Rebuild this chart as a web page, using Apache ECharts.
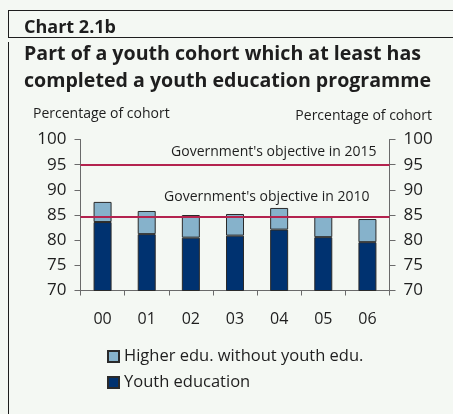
<!DOCTYPE html>
<html>
<head>
<meta charset="utf-8">
<script src="https://cdn.jsdelivr.net/npm/echarts@6/dist/echarts.min.js"></script>
<style>
  html, body { margin: 0; padding: 0; background: #f4f8f3; }
  #chart { width: 453px; height: 414px; }
</style>
</head>
<body>
<div id="chart"></div>
<script>
// Completion shares by cohort year (per cent of cohort)
const years = ['00', '01', '02', '03', '04', '05', '06'];
const youthEducation = [83.6, 81.2, 80.5, 80.9, 82.1, 80.6, 79.6];
const higherWithoutYouth = [4.0, 4.6, 4.5, 4.3, 4.3, 4.1, 4.6];
const objective2015 = 95;
const objective2010 = 84.6;
const yTicks = [70, 75, 80, 85, 90, 95, 100];

const FONT = '"Open Sans", "Noto Sans", sans-serif';
const INK = '#1e1e1e';
const AXIS = '#6a6a6a';
const NAVY = '#003270';
const LIGHT = '#86b2cb';
const RED = '#b4234f';

const chart = echarts.init(document.getElementById('chart'), null, { renderer: 'canvas' });

const yAxisBase = {
  type: 'value',
  min: yTicks[0],
  max: yTicks[yTicks.length - 1],
  interval: 5,
  axisLine: { show: true, lineStyle: { color: AXIS, width: 1 } },
  axisTick: { show: true, length: 6, lineStyle: { color: AXIS } },
  splitLine: { show: false },
  axisLabel: { color: INK, fontFamily: FONT, fontSize: 17, margin: 14 }
};

chart.setOption({
  backgroundColor: '#f4f8f3',
  animation: false,
  title: [
    {
      text: 'Chart 2.1b', left: 24, top: 19, padding: 0,
      textStyle: { fontFamily: FONT, fontWeight: 'bold', fontSize: 18, color: INK }
    },
    {
      text: 'Part of a youth cohort which at least has\ncompleted a youth education programme',
      left: 24, top: 41, padding: 0,
      textStyle: { fontFamily: FONT, fontWeight: 'bold', fontSize: 19.6, lineHeight: 27, color: INK }
    },
    {
      text: 'Percentage of cohort', left: 33, top: 107, padding: 0,
      textStyle: { fontFamily: FONT, fontWeight: 'normal', fontSize: 14, color: INK }
    },
    {
      text: 'Percentage of cohort', right: 21, top: 109, padding: 0,
      textStyle: { fontFamily: FONT, fontWeight: 'normal', fontSize: 14, color: INK }
    }
  ],
  graphic: [
    { type: 'line', shape: { x1: 8, y1: 10.5, x2: 453, y2: 10.5 }, style: { stroke: INK, lineWidth: 1 } },
    { type: 'line', shape: { x1: 8, y1: 37.5, x2: 453, y2: 37.5 }, style: { stroke: INK, lineWidth: 1 } },
    { type: 'line', shape: { x1: 8.5, y1: 10, x2: 8.5, y2: 38 }, style: { stroke: INK, lineWidth: 1 } },
    { type: 'line', shape: { x1: 8.5, y1: 42, x2: 8.5, y2: 414 }, style: { stroke: INK, lineWidth: 1 } }
  ],
  legend: {
    orient: 'vertical',
    left: 107, top: 348, padding: 0,
    icon: 'rect',
    itemWidth: 11, itemHeight: 11, itemGap: 9,
    data: ['Higher edu. without youth edu.', 'Youth education'],
    textStyle: { fontFamily: FONT, fontSize: 16.5, color: INK }
  },
  grid: { left: 80.5, right: 63.5, top: 139.5, bottom: 123.5, containLabel: false },
  xAxis: {
    type: 'category',
    data: years,
    axisLine: { show: true, lineStyle: { color: AXIS, width: 1 } },
    axisTick: { show: true, length: 5, lineStyle: { color: AXIS } },
    axisLabel: { color: INK, fontFamily: FONT, fontSize: 16, margin: 21 }
  },
  yAxis: [
    Object.assign({}, yAxisBase, { position: 'left' }),
    Object.assign({}, yAxisBase, { position: 'right' })
  ],
  series: [
    {
      name: 'Youth education',
      type: 'bar',
      stack: 'cohort',
      barWidth: 18,
      data: youthEducation,
      itemStyle: { color: NAVY, borderColor: '#2a2a2a', borderWidth: 1 }
    },
    {
      name: 'Higher edu. without youth edu.',
      type: 'bar',
      stack: 'cohort',
      barWidth: 18,
      data: higherWithoutYouth,
      itemStyle: { color: LIGHT, borderColor: '#2a2a2a', borderWidth: 1 }
    },
    {
      name: 'objectives',
      type: 'line',
      data: [],
      z: 10,
      silent: true,
      markLine: {
        symbol: 'none',
        silent: true,
        lineStyle: { color: RED, width: 2, type: 'solid' },
        label: {
          position: 'insideEndTop',
          color: INK, fontFamily: FONT, fontSize: 14
        },
        data: [
          {
            yAxis: objective2015,
            label: { formatter: "Government's objective in 2015", distance: [13, 6] }
          },
          {
            yAxis: objective2010,
            label: { formatter: "Government's objective in 2010", distance: [20, 13] }
          }
        ]
      }
    }
  ]
});
</script>
</body>
</html>
